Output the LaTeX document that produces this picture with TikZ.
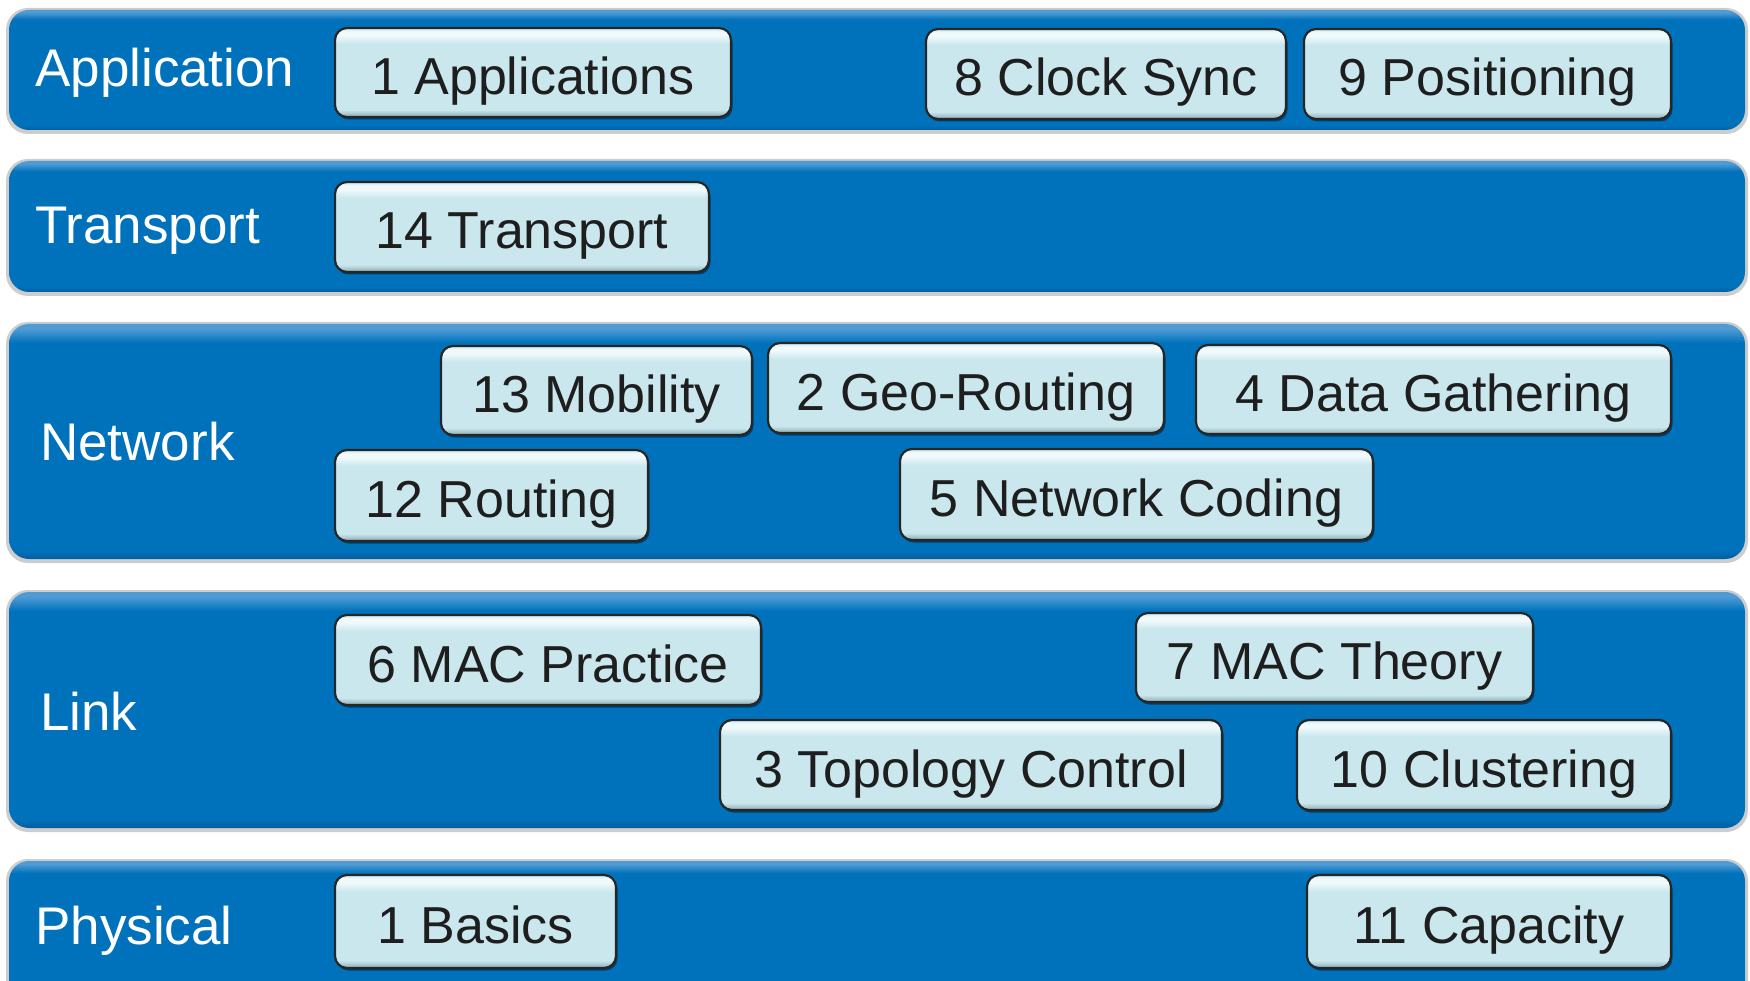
\documentclass[tikz,border=0pt]{standalone}
\usepackage{fontspec}
\setmainfont{Liberation Sans}
\usetikzlibrary{shadows}
\definecolor{bandc}{RGB}{0,114,188}
\definecolor{bandhi}{RGB}{80,155,212}
\definecolor{banddk}{RGB}{0,95,160}
\definecolor{boxc}{RGB}{201,231,237}
\definecolor{boxhi}{RGB}{240,250,252}
\definecolor{boxdk}{RGB}{140,170,178}
\definecolor{boxtxt}{RGB}{30,30,30}
\definecolor{bevel}{RGB}{205,205,205}
\pgfdeclareverticalshading{topicshade}{100bp}{color(0bp)=(boxdk); color(25bp)=(boxdk); color(29bp)=(boxc); color(66bp)=(boxc); color(71bp)=(boxhi); color(73bp)=(boxhi); color(75bp)=(boxc); color(100bp)=(boxc)}
\pgfdeclareverticalshading{bandshade}{100bp}{color(0bp)=(banddk); color(25bp)=(banddk); color(27bp)=(bandc); color(71bp)=(bandc); color(74bp)=(bandhi); color(75bp)=(bandhi); color(100bp)=(bandhi)}
\tikzset{
  layerband/.style={shading=bandshade, rounded corners=20pt},
  bandbevel/.style={fill=bevel, rounded corners=22pt},
  layerlabel/.style={anchor=west, text=white, font=\fontsize{53}{60}\selectfont, inner sep=0pt,
    text height=38pt, text depth=0pt},
  topicbox/.style={draw=black!85, line width=2.2pt, rounded corners=12pt, shading=topicshade,
    text=boxtxt, font=\fontsize{52}{60}\selectfont, inner sep=0pt, text height=44pt, text depth=0pt,
    drop shadow={shadow xshift=1.5pt, shadow yshift=-2.5pt, opacity=0.45, fill=black}},
}
\newcommand{\layerbandat}[2]{%
  \fill[bandbevel] (6,#1-2) rectangle (1748,#2+4);
  \path[layerband] (9,#1) rectangle (1745,#2);
}
\begin{document}
\begin{tikzpicture}[x=1pt,y=-1pt]
\useasboundingbox (0,0) rectangle (1750,981);
\clip (0,0) rectangle (1750,981);
\fill[white] (0,0) rectangle (1750,981);
% bands
\layerbandat{10}{130}
\layerbandat{161}{292}
\layerbandat{324}{559}
\layerbandat{592}{828}
\layerbandat{861}{1012}
% labels
\node[layerlabel] (lapp) at (35,68) {Application};
\node[layerlabel] (ltra) at (35,225) {Transport};
\node[layerlabel] (lnet) at (40,441) {Network};
\node[layerlabel] (llnk) at (40,711) {Link};
\node[layerlabel] (lphy) at (35,925) {Physical};
% application
\node[topicbox, minimum width=396pt, minimum height=89pt] (apps) at (533,72.5) {1 Applications};
\node[topicbox, minimum width=360pt, minimum height=90pt] (clock) at (1106,74) {8 Clock Sync};
\node[topicbox, minimum width=367pt, minimum height=90pt] (posi) at (1487.5,74) {9 Positioning};
% transport
\node[topicbox, minimum width=374pt, minimum height=90pt] (trans) at (522,227) {14 Transport};
% network
\node[topicbox, minimum width=311pt, minimum height=89pt] (mob) at (596.5,390.5) {13 Mobility};
\node[topicbox, minimum width=396pt, minimum height=90pt] (geo) at (966,388) {2 Geo-Routing};
\node[topicbox, minimum width=475pt, minimum height=89pt] (data) at (1433.5,389.5) {4 Data Gathering};
\node[topicbox, minimum width=313pt, minimum height=91pt] (rout) at (491.5,495.5) {12 Routing};
\node[topicbox, minimum width=473pt, minimum height=91pt] (ncod) at (1136.5,494.5) {5 Network Coding};
% link
\node[topicbox, minimum width=426pt, minimum height=90pt] (macp) at (548,660) {6 MAC Practice};
\node[topicbox, minimum width=397pt, minimum height=89pt] (mact) at (1334.5,657.5) {7 MAC Theory};
\node[topicbox, minimum width=502pt, minimum height=90pt] (topo) at (971,765) {3 Topology Control};
\node[topicbox, minimum width=374pt, minimum height=90pt] (clus) at (1484,765) {10 Clustering};
% physical
\node[topicbox, minimum width=281pt, minimum height=93pt] (basic) at (475.5,921.5) {1 Basics};
\node[topicbox, minimum width=364pt, minimum height=93pt] (capa) at (1489,921.5) {11 Capacity};
\end{tikzpicture}
\end{document}
